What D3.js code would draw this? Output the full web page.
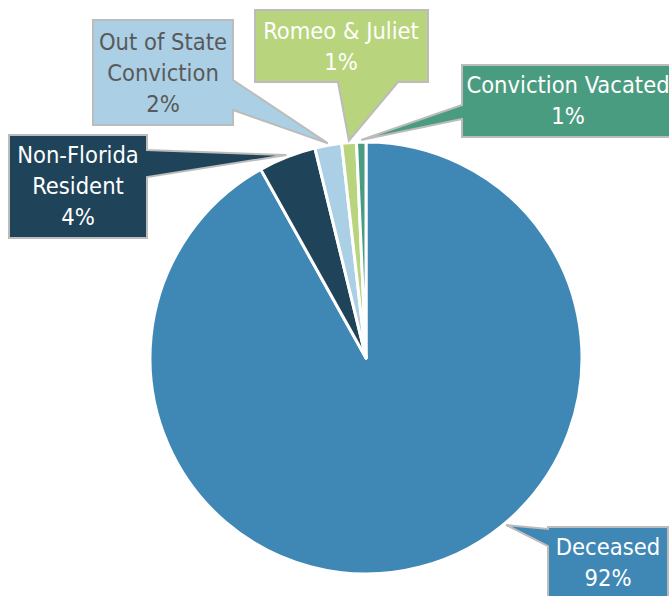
<!DOCTYPE html>
<html lang="en">
<head>
    <meta charset="UTF-8">
    <title>Pie</title>
    <script src="https://cdn.jsdelivr.net/npm/d3@7/dist/d3.min.js"></script>
</head>
<style>
    body { margin: 0; background: #ffffff; }
    .callout text {
        font-family: "DejaVu Sans Condensed", "Liberation Sans Narrow", sans-serif;
        font-size: 23.5px;
    }
</style>
<body>
<div id="output"></div>

<script>

// data, clockwise from 12 o'clock
var categories = ["Deceased", "Non-Florida Resident", "Out of State Conviction", "Romeo & Juliet", "Conviction Vacated"];
var values = [91.9, 4.3, 2.0, 1.1, 0.7];

var colors = ["#3f88b5", "#1f4459", "#abcfe4", "#b8d47c", "#4a9c80"];
var textColors = ["#ffffff", "#ffffff", "#595959", "#ffffff", "#ffffff"];

var w = 669;
var h = 596;
var cx = 366, cy = 358, radius = 216;

// callout boxes: lines of text, box, side the pointer leaves from
var callouts = [
    { lines: ["Deceased"], x: 548, y: 527, w: 120, h: 80, side: "left", a: 529, b: 546, tipAngle: 140, cxText: 608, base: 555 },
    { lines: ["Non-Florida", "Resident"], x: 9, y: 135, w: 138, h: 103, side: "right", a: 150, b: 177, cxText: 78, base: 163 },
    { lines: ["Out of State", "Conviction"], x: 93, y: 20, w: 140, h: 105, side: "right", a: 80, b: 110, cxText: 163, base: 50 },
    { lines: ["Romeo & Juliet"], x: 255, y: 10, w: 173, h: 72, side: "bottom", a: 338, b: 398, cxText: 341, base: 39 },
    { lines: ["Conviction Vacated"], x: 462, y: 65, w: 212, h: 72, side: "left", a: 105, b: 119, cxText: 568, base: 93 }
];
var lineStep = 31;

var svg = d3.select("#output")
            .append("svg")
            .attr("width", w)
            .attr("height", h);

var pie = d3.pie().sort(null).value(function(d){ return d; });
var arcs = pie(values);

var arc = d3.arc().innerRadius(0).outerRadius(radius);

var pieLayer = svg.append("g")
        .attr("transform", "translate(" + cx + "," + cy + ")");

pieLayer.selectAll("path")
        .data(arcs)
        .enter()
        .append("path")
            .attr("d", arc)
            .attr("fill", function(d, i){ return colors[i]; })
            .attr("stroke", "#ffffff")
            .attr("stroke-width", 3)
            .attr("stroke-linejoin", "round");

function calloutPath(c, tip) {
    var x0 = c.x, y0 = c.y, x1 = c.x + c.w, y1 = c.y + c.h;
    var p = [[x0, y0]];
    if (c.side === "top") p.push([c.a, y0], tip, [c.b, y0]);
    p.push([x1, y0]);
    if (c.side === "right") p.push([x1, c.a], tip, [x1, c.b]);
    p.push([x1, y1]);
    if (c.side === "bottom") p.push([c.b, y1], tip, [c.a, y1]);
    p.push([x0, y1]);
    if (c.side === "left") p.push([x0, c.b], tip, [x0, c.a]);
    return "M" + p.map(function(q){ return q[0] + "," + q[1]; }).join("L") + "Z";
}

var labelLayer = svg.append("g");

arcs.forEach(function(d, i) {
    var c = callouts[i];
    var ang = c.tipAngle !== undefined ? c.tipAngle * Math.PI / 180 : (d.startAngle + d.endAngle) / 2;
    var pt = d3.pointRadial(ang, radius + 2);
    var tip = [cx + pt[0], cy + pt[1]];

    var g = labelLayer.append("g").attr("class", "callout");
    g.append("path")
        .attr("d", calloutPath(c, tip))
        .attr("fill", colors[i])
        .attr("stroke", "#bcbcbc")
        .attr("stroke-width", 2)
        .attr("stroke-linejoin", "miter");

    var txt = c.lines.concat([Math.round(values[i]) + "%"]);
    g.selectAll("text")
        .data(txt)
        .enter()
        .append("text")
            .attr("x", c.cxText)
            .attr("y", function(t, k){ return c.base + k * lineStep; })
            .attr("text-anchor", "middle")
            .attr("fill", textColors[i])
            .text(function(t){ return t; });
});

</script>
</body>
</html>
